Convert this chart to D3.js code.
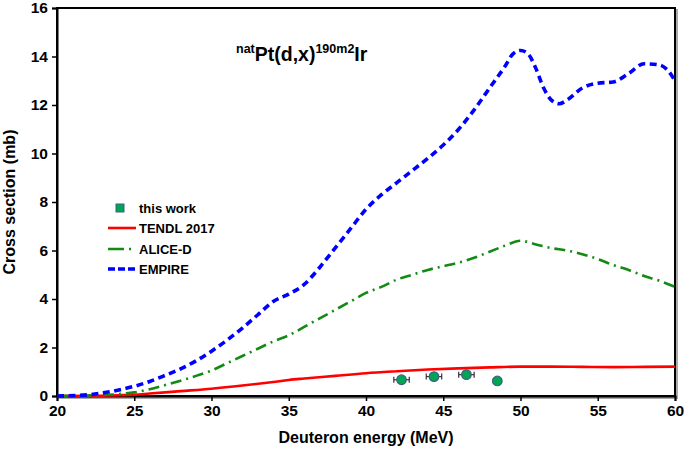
<!DOCTYPE html>
<html><head><meta charset="utf-8">
<script src="https://cdn.jsdelivr.net/npm/d3@7"></script>
<style>body{margin:0;background:#fff}text{font-family:"Liberation Sans",Arial,sans-serif;font-weight:bold}</style>
</head><body><svg id="c" width="685" height="449"></svg>
<script>
const xTicks=[20,25,30,35,40,45,50,55,60];
const yTicks=[0,2,4,6,8,10,12,14,16];
const empireE=[20,22,23,24,25,26,27,28,29,30,31,32,33,34,35,36,37,38,39,40,41,42,43,44,45,46,47,48,49,49.5,50,50.5,51,51.5,52,52.5,53,54,55,56,57,58,59,59.5,60];
const empireV=[0,0.05,0.13,0.25,0.4,0.6,0.85,1.12,1.45,1.85,2.3,2.8,3.35,3.9,4.2,4.6,5.3,6.1,6.9,7.7,8.3,8.8,9.3,9.8,10.35,11.0,11.8,12.7,13.6,14.1,14.25,14.1,13.5,12.7,12.2,12.05,12.2,12.7,12.9,12.95,13.3,13.7,13.65,13.45,13.0];
const aliceE=[20,22,24,25,26,27,28,29,30,31,32,33,34,35,36,37,38,39,40,41,42,43,44,45,46,47,48,49,50,51,52,53,54,55,56,57,58,59,60];
const aliceV=[0,0.02,0.08,0.15,0.28,0.45,0.63,0.83,1.05,1.35,1.65,1.95,2.25,2.5,2.85,3.2,3.55,3.9,4.25,4.5,4.8,5.0,5.2,5.35,5.5,5.7,5.95,6.2,6.4,6.25,6.1,6.0,5.85,5.65,5.4,5.2,4.95,4.75,4.5];
const tendlE=[20,22,24,25,26,28,30,32,34,35,36,38,40,42,44,46,48,50,52,54,56,58,60];
const tendlV=[0,0.005,0.03,0.05,0.1,0.2,0.3,0.43,0.58,0.66,0.72,0.83,0.94,1.02,1.09,1.14,1.18,1.21,1.21,1.2,1.19,1.2,1.21];
const expE=[42.3,44.4,46.5,48.5];
const expV=[0.67,0.8,0.88,0.62];
const expErr=[0.5,0.5,0.5,0.25];

const svg=d3.select("#c");
const L=57,R=675,T=8,B=396;
const x=d3.scaleLinear().domain([20,60]).range([L,R]);
const y=d3.scaleLinear().domain([0,16]).range([B,T]);

svg.append("rect").attr("x",L+2).attr("y",T+2).attr("width",R-L).attr("height",B-T).attr("fill","none").attr("stroke","#aaa").attr("stroke-width",2);
svg.append("rect").attr("x",L).attr("y",T).attr("width",R-L).attr("height",B-T).attr("fill","#fff").attr("stroke","#000").attr("stroke-width",2);

const xa=svg.append("g").attr("transform",`translate(0,${B})`).call(d3.axisBottom(x).tickValues(xTicks).tickSize(5).tickPadding(4).tickFormat(d3.format("d")));
const ya=svg.append("g").attr("transform",`translate(${L},0)`).call(d3.axisLeft(y).tickValues(yTicks).tickSize(5).tickPadding(4).tickFormat(d3.format("d")));
[xa,ya].forEach(a=>{a.select(".domain").attr("stroke","#000").attr("stroke-width",2);a.selectAll(".tick line").attr("stroke","#000").attr("stroke-width",1.5);a.selectAll("text").attr("font-size",15.5).attr("fill","#000").attr("font-family","Liberation Sans, Arial, sans-serif").attr("font-weight","bold");});

const line=d3.line().x(d=>x(d[0])).y(d=>y(d[1])).curve(d3.curveMonotoneX);
const g=svg.append("g");
g.append("path").datum(d3.zip(tendlE,tendlV)).attr("d",line).attr("fill","none").attr("stroke","#ff0000").attr("stroke-width",2.6);
g.append("path").datum(d3.zip(aliceE,aliceV)).attr("d",line).attr("fill","none").attr("stroke","#138a13").attr("stroke-width",2.6).attr("stroke-dasharray","11,5,2,5");
g.append("path").datum(d3.zip(empireE,empireV)).attr("d",line).attr("fill","none").attr("stroke","#0000ff").attr("stroke-width",3.6).attr("stroke-dasharray","7,4.5");

const pts=g.selectAll(".pt").data(d3.zip(expE,expV,expErr)).enter().append("g");
pts.append("line").attr("x1",d=>x(d[0]-d[2])).attr("x2",d=>x(d[0]+d[2])).attr("y1",d=>y(d[1])).attr("y2",d=>y(d[1])).attr("stroke","#333").attr("stroke-width",1.2);
pts.append("line").attr("x1",d=>x(d[0]-d[2])).attr("x2",d=>x(d[0]-d[2])).attr("y1",d=>y(d[1])-3).attr("y2",d=>y(d[1])+3).attr("stroke","#333").attr("stroke-width",1.2);
pts.append("line").attr("x1",d=>x(d[0]+d[2])).attr("x2",d=>x(d[0]+d[2])).attr("y1",d=>y(d[1])-3).attr("y2",d=>y(d[1])+3).attr("stroke","#333").attr("stroke-width",1.2);
pts.append("circle").attr("cx",d=>x(d[0])).attr("cy",d=>y(d[1])).attr("r",4.8).attr("fill","#00a651").attr("stroke","#3f5f8a").attr("stroke-width",1.2);

const t=svg.append("text").attr("x",236).attr("y",61).attr("font-size",19.5).attr("fill","#000");
t.append("tspan").attr("font-size",12.5).attr("dy",-8).text("nat");
t.append("tspan").attr("dy",8).text("Pt(d,x)");
t.append("tspan").attr("font-size",12.5).attr("dy",-8).text("190m2");
t.append("tspan").attr("dy",8).text("Ir");

const lg=svg.append("g");
const ly=[208,228,249,269];
lg.append("rect").attr("x",116).attr("y",ly[0]-4).attr("width",8).attr("height",8).attr("fill","#00a651").attr("stroke","#3f5f8a").attr("stroke-width",1);
lg.append("line").attr("x1",108).attr("x2",136).attr("y1",ly[1]).attr("y2",ly[1]).attr("stroke","#ff0000").attr("stroke-width",2.6);
lg.append("line").attr("x1",108).attr("x2",136).attr("y1",ly[2]).attr("y2",ly[2]).attr("stroke","#138a13").attr("stroke-width",2.6).attr("stroke-dasharray","16,5,2,20");
lg.append("line").attr("x1",108).attr("x2",136).attr("y1",ly[3]).attr("y2",ly[3]).attr("stroke","#0000ff").attr("stroke-width",3.6).attr("stroke-dasharray","7,3");
["this work","TENDL 2017","ALICE-D","EMPIRE"].forEach((s,i)=>{lg.append("text").attr("x",139).attr("y",ly[i]+4.5).attr("font-size",13).attr("fill","#000").text(s);});

svg.append("text").attr("x",(L+R)/2).attr("y",443).attr("text-anchor","middle").attr("font-size",16).attr("fill","#000").text("Deuteron energy (MeV)");
svg.append("text").attr("transform",`translate(15,${(T+B)/2}) rotate(-90)`).attr("text-anchor","middle").attr("font-size",16).attr("fill","#000").text("Cross section (mb)");
</script></body></html>
